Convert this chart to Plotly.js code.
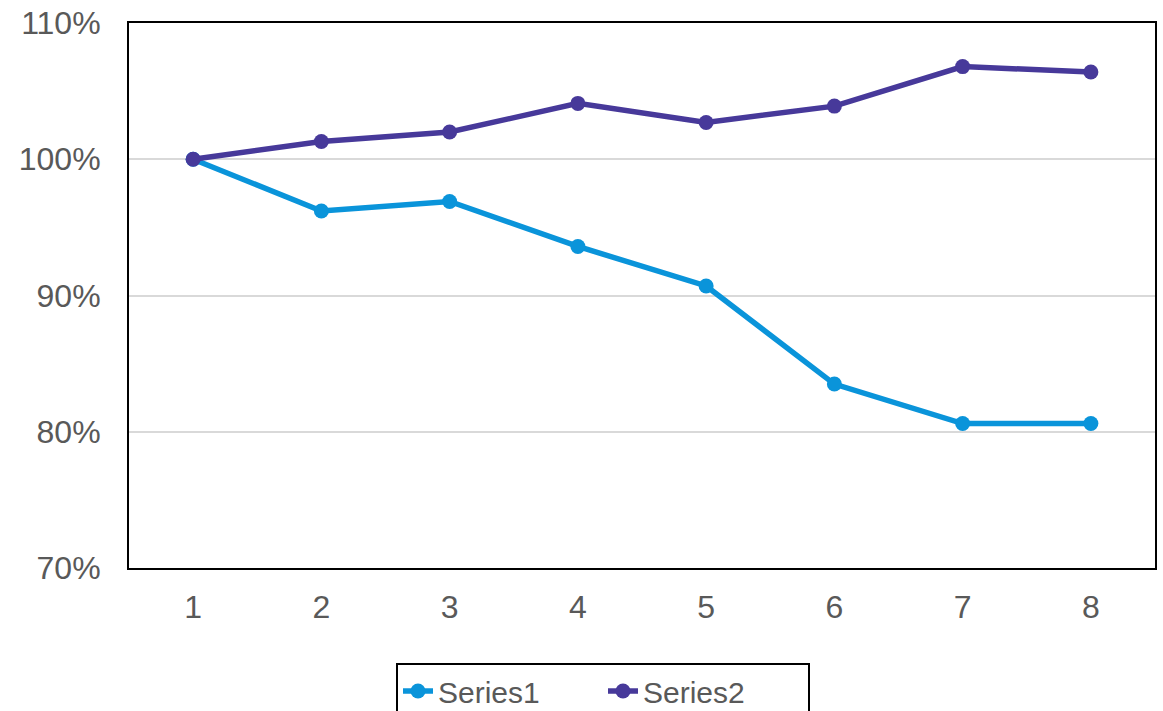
<!DOCTYPE html>
<html>
<head>
<meta charset="utf-8">
<script src="https://cdn.plot.ly/plotly-3.0.1.min.js"></script>
<style>html,body{margin:0;padding:0;background:#fff;}#chart{width:1163px;height:711px;}</style>
</head>
<body>
<div id="chart"></div>
<script>
const categories = [1, 2, 3, 4, 5, 6, 7, 8];
const series1 = [1.000, 0.962, 0.969, 0.936, 0.907, 0.835, 0.806, 0.806];
const series2 = [1.000, 1.013, 1.020, 1.041, 1.027, 1.039, 1.068, 1.064];
const seriesNames = ["Series1", "Series2"];
const yTicks = [0.7, 0.8, 0.9, 1.0, 1.1];
const yTickLabels = ["70%", "80%", "90%", "100%", "110%"];

const colors = ["#0A94DA", "#47399A"];
const traces = [series1, series2].map((vals, i) => ({
  type: "scatter",
  mode: "lines+markers",
  name: seriesNames[i],
  x: categories,
  y: vals,
  line: {color: colors[i], width: 5.5},
  marker: {color: colors[i], size: 15}
}));

const font = {family: "Liberation Sans, Arial, sans-serif", size: 30, color: "#595959"};
const tickFont = {family: "Liberation Sans, Arial, sans-serif", size: 32, color: "#595959"};
const layout = {
  width: 1163, height: 711,
  margin: {l: 129, r: 8, t: 23, b: 143, pad: 0},
  paper_bgcolor: "#fff", plot_bgcolor: "#fff",
  font: font,
  showlegend: true,
  legend: {
    orientation: "h",
    xref: "container", yref: "container",
    x: 0.3405, xanchor: "left",
    y: 0.0675, yanchor: "top",
    bordercolor: "#000", borderwidth: 2,
    entrywidth: 160,
    font: font,
    traceorder: "normal"
  },
  xaxis: {
    type: "linear",
    range: [0.5, 8.5],
    tickvals: categories,
    ticktext: categories.map(String),
    showgrid: false, zeroline: false,
    showline: true, linecolor: "#000", linewidth: 2, mirror: true,
    ticks: "", ticklabelstandoff: 10,
    tickfont: tickFont
  },
  yaxis: {
    range: [0.7, 1.1],
    tickvals: yTicks,
    ticktext: yTickLabels,
    showgrid: true, gridcolor: "#D9D9D9", gridwidth: 2,
    zeroline: false,
    showline: true, linecolor: "#000", linewidth: 2, mirror: true,
    ticks: "", ticklabelstandoff: 20,
    tickfont: tickFont
  }
};
Plotly.newPlot("chart", traces, layout, {displayModeBar: false, staticPlot: true});
</script>
</body>
</html>
